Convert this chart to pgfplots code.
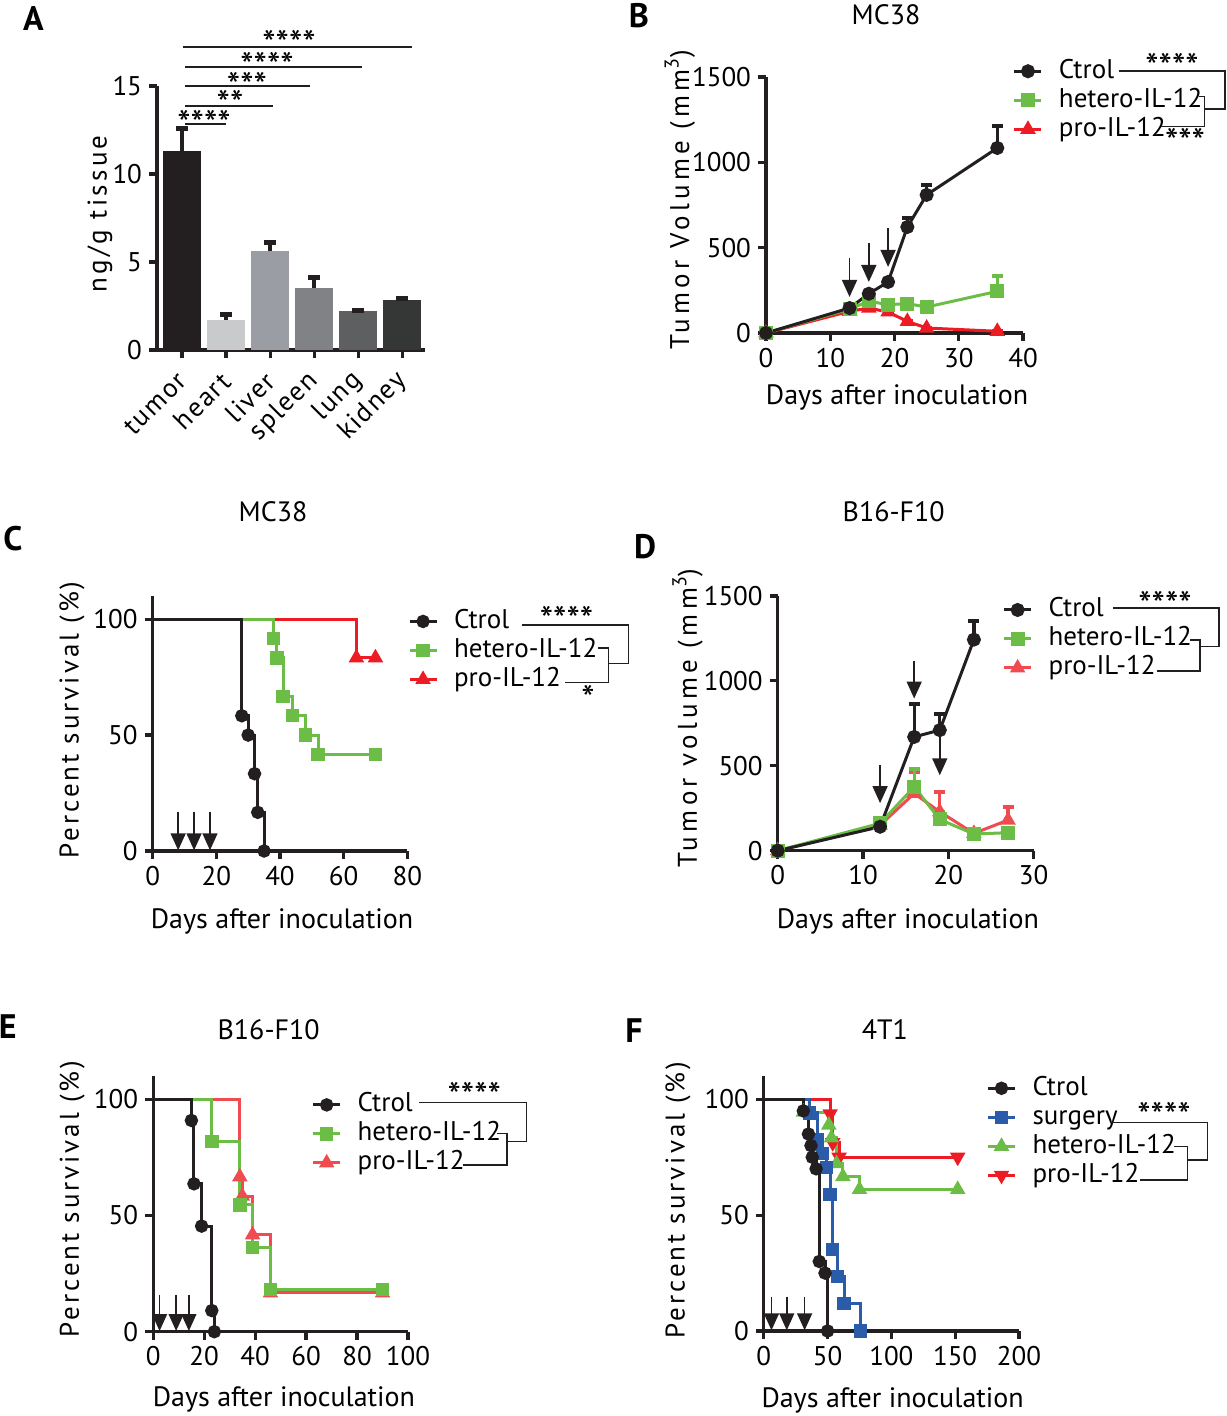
\documentclass[border=0pt]{standalone}
\usepackage{pgfplots}
\pgfplotsset{compat=1.18}
\usepackage{pgfplotstable}
\usetikzlibrary{arrows.meta}
\usepackage{fontspec}
\setmainfont{PT Sans}
\newfontfamily\lsa{PT Sans}[LetterSpace=16]
\newfontfamily\lsb{PT Sans}[LetterSpace=11]
\newfontfamily\lsc{PT Sans}[LetterSpace=12]
\newfontfamily\lsd{PT Sans}[LetterSpace=6]
\definecolor{ck}{HTML}{231F20}
\definecolor{cg}{HTML}{6CBD45}
\definecolor{cr}{HTML}{ED1C24}
\definecolor{crl}{HTML}{EF4B50}
\definecolor{cb}{HTML}{2B5CAA}
\definecolor{bA}{HTML}{231F20}
\definecolor{bB}{HTML}{C9CACC}
\definecolor{bC}{HTML}{9A9DA3}
\definecolor{bD}{HTML}{808285}
\definecolor{bE}{HTML}{5E5F61}
\definecolor{bF}{HTML}{343735}
\newcommand\fs{\fontsize{13.5}{15}\selectfont}
\newcommand\fx{\fontsize{14}{16}\selectfont}
\newcommand\supthree{\textsuperscript{\fontsize{10}{10}\selectfont 3}}
\tikzset{trt/.style={line width=0.8pt, ck, -{Triangle[length=8.5pt,width=7.5pt]}}}

\pgfplotsset{
 prism/.style={
  scale only axis, axis lines=left,
  axis line style={line width=1.6pt,-,ck},
  every tick/.style={line width=1.6pt,ck},
  tick align=outside, major tick length=4pt,
  ticklabel style={font=\fs},
  /pgf/number format/assume math mode=true,
  /pgf/number format/1000 sep={},
  clip=false,
  legend cell align=left,
  legend style={draw=none, fill=none, anchor=north west, inner sep=0pt, outer sep=0pt,
     font=\fs, row sep=2.3pt, column sep=8pt,
     nodes={inner sep=0pt, text height=9.5pt, text depth=2.7pt}},
  legend image code/.code={\draw[mark repeat=2,mark phase=2,##1] plot coordinates {(0pt,0pt) (6.75pt,0pt) (13.5pt,0pt)};},
  xlabel style={anchor=center, font=\fx},
  ylabel style={anchor=center, rotate=0},
 },
 tv/.style={line width=1.5pt, mark size=2.75pt,
  error bars/y dir=plus, error bars/y explicit,
  error bars/error bar style={line width=1.6pt},
  error bars/error mark options={rotate=90, line width=2pt, mark size=2.75pt}},
 km/.style={const plot, line width=1.5pt, mark size=2.6pt},
}

% ---------- data ----------
\pgfplotstableread{
x y e
0 0 0
13 146 0
16 230 10
19 299 0
22 621 55
25 809 58
36 1084 127
}\Bctrl
\pgfplotstableread{
x y e
0 0 0
13 140 0
16 186 0
19 166 0
22 172 0
25 152 20
36 244 92
}\Bhet
\pgfplotstableread{
x y e
0 0 0
13 127 0
16 146 0
19 123 0
22 68 0
25 29 0
36 10 0
}\Bpro
\pgfplotstableread{
x y
0 100
28 58.33
30 50
32 33.33
33 16.67
35 0
}\Cctrl
\pgfplotstableread{
x y
0 100
38 91.67
39 83.33
41 66.67
44 58.33
48 50
52 41.67
70 41.67
}\Chet
\pgfplotstableread{
x y
0 100
64 83.33
70 83.33
}\Cpro
\pgfplotstableread{
x y e
0 0 0
12 141 49
16 670 196
19 710 94
23 1243 110
}\Dctrl
\pgfplotstableread{
x y e
0 0 0
12 161 0
16 376 108
19 184 45
23 98 0
27 106 19
}\Dhet
\pgfplotstableread{
x y e
0 0 0
12 150 0
16 337 127
19 229 118
23 102 0
27 180 78
}\Dpro
\pgfplotstableread{
x y
0 100
15 90.91
16 63.64
19 45.45
23 9.09
24 0
}\Ectrl
\pgfplotstableread{
x y
0 100
23 81.82
34 54.55
39 36.36
46 18.18
90 18.18
}\Ehet
\pgfplotstableread{
x y
0 100
34 66.67
35 58.33
39 41.67
46 16.67
90 16.67
}\Epro
\pgfplotstableread{
x y
0 100
31 95
35 85
37 80
38 75
41 70
43.5 30
48 25
50 0
}\Fctrl
\pgfplotstableread{
x y
0 100
36 94.12
42 82.35
46 76.47
49 70.59
52 58.82
54 35.29
58 23.53
63 11.76
76 0
}\Fsur
\pgfplotstableread{
x y
0 100
31 94.44
51 88.89
53 83.33
57 72.22
62 66.67
75 61.11
152 61.11
}\Fhet
\pgfplotstableread{
x y
0 100
52 93.75
54 81.25
59 75
152 75
}\Fpro

\begin{document}
\begin{tikzpicture}
% ================= A =================
\begin{axis}[prism, at={(78.5pt,533pt)}, anchor=south west,
  width=134pt, height=132pt, xmin=-0.57, xmax=5.52, ymin=0, ymax=15,
  xtick={0,1,2,3,4,5}, xticklabels={tumor,heart,liver,spleen,lung,kidney},
  xticklabel style={font=\fs\lsd, yshift=-7pt, xshift=2.5pt, rotate=45, anchor=east},
  ytick={0,5,10,15},
  ylabel={ng/g tissue},
  ylabel style={font=\fs\lsc, at={(axis description cs:-0.213,0.515)}},
  every axis plot/.append style={ybar, bar width=19pt, bar shift=0pt, draw=none,
    error bars/y dir=plus, error bars/y explicit,
    error bars/error bar style={line width=2pt, ck},
    error bars/error mark options={rotate=90, line width=2.6pt, mark size=3pt, ck}},
]
\addplot[fill=bA] coordinates {(0,11.3) +- (0,1.3)};
\addplot[fill=bB] coordinates {(1,1.7) +- (0,0.33)};
\addplot[fill=bC] coordinates {(2,5.6) +- (0,0.5)};
\addplot[fill=bD] coordinates {(3,3.5) +- (0,0.63)};
\addplot[fill=bE] coordinates {(4,2.2) +- (0,0.05)};
\addplot[fill=bF] coordinates {(5,2.85) +- (0,0.07)};
\end{axis}

% ================= B =================
\begin{axis}[prism, at={(383pt,541.5pt)}, anchor=south west,
  width=128.5pt, height=128pt, xmin=0, xmax=40, ymin=0, ymax=1500,
  xtick={0,10,20,30,40}, ytick={0,500,1000,1500},
  xlabel={Days after inoculation}, ylabel={Tumor Volume (mm\supthree)},
  xlabel style={at={(axis description cs:0.51,-0.25)}},
  ylabel style={font=\fs\lsa, at={(axis description cs:-0.335,0.52)}},
  legend style={at={(axis description cs:0.961,1.07)}},
]
\addlegendimage{ck, line width=1.5pt, mark=*, mark size=2.75pt}\addlegendentry{Ctrol}
\addlegendimage{cg, line width=1.5pt, mark=square*, mark size=2.75pt}\addlegendentry{hetero-IL-12}
\addlegendimage{cr, line width=1.5pt, mark=triangle*, mark size=3pt}\addlegendentry{pro-IL-12}
\addplot[tv, cr, mark=triangle*, mark size=3pt, forget plot] table[x=x,y=y,y error=e]{\Bpro};
\addplot[tv, cg, mark=square*, forget plot] table[x=x,y=y,y error=e]{\Bhet};
\addplot[tv, ck, mark=*, forget plot] table[x=x,y=y,y error=e]{\Bctrl};
\draw[trt] (axis cs:13,440) -- (axis cs:13,211);
\draw[trt] (axis cs:16,527) -- (axis cs:16,299);
\draw[trt] (axis cs:19,615) -- (axis cs:19,387);
\end{axis}

% ================= C =================
\begin{axis}[prism, at={(76.35pt,282.5pt)}, anchor=south west,
  width=127.3pt, height=127.5pt, xmin=0, xmax=80, ymin=0, ymax=110,
  xtick={0,20,40,60,80}, ytick={0,50,100},
  xlabel={Days after inoculation}, ylabel={Percent survival (\%)},
  xlabel style={at={(axis description cs:0.508,-0.278)}},
  ylabel style={font=\fs\lsb, at={(axis description cs:-0.317,0.514)}},
  legend style={at={(axis description cs:1.003,0.948)}},
]
\addlegendimage{ck, line width=1.5pt, mark=*, mark size=2.6pt}\addlegendentry{Ctrol}
\addlegendimage{cg, line width=1.5pt, mark=square*, mark size=2.6pt}\addlegendentry{hetero-IL-12}
\addlegendimage{cr, line width=1.5pt, mark=triangle*, mark size=3pt}\addlegendentry{pro-IL-12}
\addplot[km, cr, mark=triangle*, mark size=3pt, mark indices={2,3}, forget plot] table{\Cpro};
\addplot[km, cg, mark=square*, mark indices={2,3,4,5,6,7,8}, forget plot] table{\Chet};
\addplot[km, ck, mark=*, mark indices={2,3,4,5,6}, forget plot] table{\Cctrl};
\draw[trt] (axis cs:8,17) -- (axis cs:8,0.3);
\draw[trt] (axis cs:13,17) -- (axis cs:13,0.3);
\draw[trt] (axis cs:18,17) -- (axis cs:18,0.3);
\end{axis}

% ================= D =================
\begin{axis}[prism, at={(388.85pt,282.65pt)}, anchor=south west,
  width=127.95pt, height=127.35pt, xmin=0, xmax=30, ymin=0, ymax=1500,
  xtick={0,10,20,30}, ytick={0,500,1000,1500},
  xlabel={Days after inoculation}, ylabel={Tumor volume (mm\supthree)},
  xlabel style={at={(axis description cs:0.509,-0.276)}},
  ylabel style={font=\fs\lsa, at={(axis description cs:-0.352,0.521)}},
  legend style={at={(axis description cs:0.879,0.993)}},
]
\addlegendimage{ck, line width=1.5pt, mark=*, mark size=2.75pt}\addlegendentry{Ctrol}
\addlegendimage{cg, line width=1.5pt, mark=square*, mark size=2.75pt}\addlegendentry{hetero-IL-12}
\addlegendimage{crl, line width=1.5pt, mark=triangle*, mark size=3pt}\addlegendentry{pro-IL-12}
\addplot[tv, crl, mark=triangle*, mark size=3pt, forget plot] table[x=x,y=y,y error=e]{\Dpro};
\addplot[tv, cg, mark=square*, forget plot] table[x=x,y=y,y error=e]{\Dhet};
\addplot[tv, ck, mark=*, forget plot] table[x=x,y=y,y error=e]{\Dctrl};
\draw[trt] (axis cs:12,503) -- (axis cs:12,280);
\draw[trt] (axis cs:16,1119) -- (axis cs:16,896);
\draw[trt] (axis cs:19,667) -- (axis cs:19,444);
\end{axis}

% ================= E =================
\begin{axis}[prism, at={(76.6pt,42.15pt)}, anchor=south west,
  width=127.4pt, height=127.8pt, xmin=0, xmax=100, ymin=0, ymax=110,
  xtick={0,20,40,60,80,100}, ytick={0,50,100},
  xlabel={Days after inoculation}, ylabel={Percent survival (\%)},
  xlabel style={at={(axis description cs:0.513,-0.267)}},
  ylabel style={font=\fs\lsb, at={(axis description cs:-0.318,0.519)}},
  legend style={at={(axis description cs:0.622,0.935)}},
]
\addlegendimage{ck, line width=1.5pt, mark=*, mark size=2.6pt}\addlegendentry{Ctrol}
\addlegendimage{cg, line width=1.5pt, mark=square*, mark size=2.6pt}\addlegendentry{hetero-IL-12}
\addlegendimage{crl, line width=1.5pt, mark=triangle*, mark size=3pt}\addlegendentry{pro-IL-12}
\addplot[km, crl, mark=triangle*, mark size=3pt, mark indices={2,3,4,5,6}, forget plot] table{\Epro};
\addplot[km, cg, mark=square*, mark indices={2,3,4,5,6}, forget plot] table{\Ehet};
\addplot[km, ck, mark=*, mark indices={2,3,4,5,6}, forget plot] table{\Ectrl};
\draw[trt] (axis cs:2.5,15.8) -- (axis cs:2.5,0.3);
\draw[trt] (axis cs:9,15.8) -- (axis cs:9,0.3);
\draw[trt] (axis cs:14,15.8) -- (axis cs:14,0.3);
\end{axis}

% ================= F =================
\begin{axis}[prism, at={(381.9pt,42.5pt)}, anchor=south west,
  width=127.55pt, height=127.45pt, xmin=0, xmax=200, ymin=0, ymax=110,
  xtick={0,50,100,150,200}, ytick={0,50,100},
  xlabel={Days after inoculation}, ylabel={Percent survival (\%)},
  xlabel style={at={(axis description cs:0.505,-0.271)}},
  ylabel style={font=\fs\lsb, at={(axis description cs:-0.337,0.514)}},
  legend style={at={(axis description cs:0.873,1.0)}},
]
\addlegendimage{ck, line width=1.5pt, mark=*, mark size=2.6pt}\addlegendentry{Ctrol}
\addlegendimage{cb, line width=1.5pt, mark=square*, mark size=2.6pt}\addlegendentry{surgery}
\addlegendimage{cg, line width=1.5pt, mark=triangle*, mark size=3pt}\addlegendentry{hetero-IL-12}
\addlegendimage{cr, line width=1.5pt, mark=triangle*, mark size=3pt, mark options={rotate=180}}\addlegendentry{pro-IL-12}
\addplot[km, cr, mark=triangle*, mark size=3pt, mark options={rotate=180}, mark indices={2,3,4,5}, forget plot] table{\Fpro};
\addplot[km, cg, mark=triangle*, mark size=3pt, mark indices={2,3,4,5,6,7,8}, forget plot] table{\Fhet};
\addplot[km, cb, mark=square*, mark indices={2,3,4,5,6,7,8,9,10}, forget plot] table{\Fsur};
\addplot[km, ck, mark=*, mark indices={2,3,4,5,6,7,8,9}, forget plot] table{\Fctrl};
\draw[trt] (axis cs:6,14.8) -- (axis cs:6,0.3);
\draw[trt] (axis cs:18,14.8) -- (axis cs:18,0.3);
\draw[trt] (axis cs:32,14.8) -- (axis cs:32,0.3);
\end{axis}

% ================= annotations in image pixels =================
\begin{scope}[x=0.5pt, y=-0.5pt, yshift=708pt]
 \tikzset{lbl/.style={font=\fontsize{17}{19}\selectfont\bfseries, inner sep=0pt},
          ttl/.style={font=\fx, inner sep=0pt},
          st/.style={font=\fontsize{19}{20}\selectfont, inner sep=0pt},
          br/.style={line width=0.65pt, ck}}
 \node[lbl] at (33.5,18.5) {A};
 \node[lbl] at (639,16) {B};
 \node[lbl] at (13,539) {C};
 \node[lbl] at (645,547) {D};
 \node[lbl] at (7.7,1026.7) {E};
 \node[lbl] at (634,1031) {F};
 \node[ttl] at (886,15) {MC38};
 \node[ttl] at (273,512) {MC38};
 \node[ttl] at (893.7,512) {B16-F10};
 \node[ttl] at (268.6,1030) {B16-F10};
 \node[ttl] at (884.8,1030) {4T1};
 % A significance
 \draw[line width=1pt, ck] (185,124) -- (226,124);
 \draw[line width=1pt, ck] (185,106) -- (273,106);
 \draw[line width=1pt, ck] (185,86) -- (310,86);
 \draw[line width=1pt, ck] (185,67) -- (362,67);
 \draw[line width=1pt, ck] (183,47) -- (412,47);
 \node[st] at (204,124) {****};
 \node[st] at (230,104) {**};
 \node[st] at (247,86) {***};
 \node[st] at (267,66) {****};
 \node[st] at (289,44) {****};
 % B brackets
 \draw[br] (1118.6,71) -- (1225,71) -- (1225,109) -- (1204.5,109);
 \draw[br] (1199,96.7) -- (1204.5,96.7) -- (1204.5,126.7) -- (1161,126.7);
 \node[st] at (1172,67) {****};
 \node[st] at (1185,142) {***};
 % C brackets
 \draw[br] (521.7,625) -- (628.3,625) -- (628.3,663.3) -- (608.3,663.3);
 \draw[br] (598,648) -- (608.3,648) -- (608.3,682.3) -- (565,682.3);
 \node[st] at (566.5,620) {****};
 \node[st] at (588,699) {*};
 % D brackets
 \draw[br] (1113,608) -- (1219,608) -- (1219,646.7) -- (1200,646.7);
 \draw[br] (1190,640) -- (1200,640) -- (1200,671) -- (1157,671);
 \node[st] at (1165,605) {****};
 % E brackets
 \draw[br] (419.4,1102.7) -- (526.2,1102.7) -- (526.2,1141.7) -- (506.9,1141.7);
 \draw[br] (497,1133.3) -- (507,1133.3) -- (507,1165) -- (463,1165);
 \node[st] at (474.3,1096) {****};
 % F brackets
 \draw[br] (1111,1122.7) -- (1207.6,1122.7) -- (1207.6,1160) -- (1187.5,1160);
 \draw[br] (1174,1146.7) -- (1187.5,1146.7) -- (1187.5,1180) -- (1140,1180);
 \node[st] at (1164,1116) {****};
\end{scope}
\pgfresetboundingbox
\path[use as bounding box] (0,0) rectangle (613pt,708pt);
\end{tikzpicture}
\end{document}
